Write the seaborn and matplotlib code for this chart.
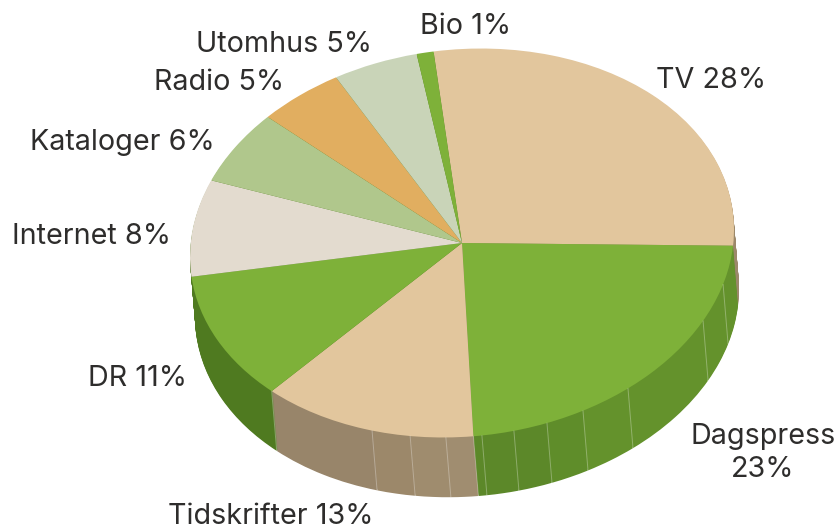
import matplotlib
matplotlib.use("Agg")
import matplotlib.pyplot as plt
from matplotlib.transforms import Affine2D
import numpy as np
import seaborn as sns

categories = ["TV", "Dagspress", "Tidskrifter", "DR", "Internet", "Kataloger", "Radio", "Utomhus", "Bio"]
shares = [28, 23, 13, 11, 8, 6, 5, 5, 1]
# the side wall is cut in facets (same total as shares)
side_shares = [28, 3.19, 3.14, 6.89, 3.11, 2.28, 2.0, 1.89, 0.5, 1.61, 2.11, 2.31, 6.97, 11, 25]
top_colors = ["#e2c69d", "#7eb139", "#e2c69d", "#7eb139", "#e3dbcf", "#b0c78c", "#e1ae60", "#c9d4b8", "#7eb139"]
side_colors = ["#9c886a", "#64922c", "#64922c", "#64922c", "#64922c", "#5f8d2a", "#5c8829", "#5c8829", "#5c8829",
               "#a08d70", "#9f8c6e", "#9c886a", "#98856a", "#4f7a20", "#4f7a20"]
label_pos = [(711, 81), (763, 453), (271, 517), (138, 378), (92, 236), (122, 143), (219, 82), (284, 44), (466, 26)]

W, H = 838, 531
CX, CY, RX, RY = 462, 243, 272, 194
DEPTH_X, DEPTH_Y = 5, 60
START = 96
TILT = 0.07  # the disc leans, left side lower than the right

sns.set_theme(style="white")
plt.rcParams["font.family"] = ["Inter", "DejaVu Sans"]

fig, ax = plt.subplots(figsize=(W / 100, H / 100), dpi=100)
fig.subplots_adjust(0, 0, 1, 1)
lean = Affine2D(np.array([[1, 0, 0], [TILT, 1, 0], [0, 0, 1]])) + ax.transData


def draw_pie(values, colors, center=(0, 0)):
    wedges = ax.pie(values, colors=sns.color_palette(colors), startangle=START, counterclock=False,
                    center=center, wedgeprops={"linewidth": 0})[0]
    for w in wedges:
        w.set_transform(lean)


# stack of darker pies makes the wall
for t in np.linspace(1, 0, 61)[:-1]:
    draw_pie(side_shares, side_colors, (t * DEPTH_X / RX, -t * DEPTH_Y / RY))

# facet lines on the wall
edges = START - np.cumsum(side_shares) * 3.6
for a in edges[1:13]:
    x0, y0 = np.cos(np.radians(a)), np.sin(np.radians(a))
    ax.plot([x0, x0 + DEPTH_X / RX], [y0, y0 - DEPTH_Y / RY], color="white", alpha=0.3, lw=0.7, transform=lean)

draw_pie(shares, top_colors)

ax.set_aspect("auto")
ax.set_xlim(-CX / RX, (W - CX) / RX)
ax.set_ylim((CY - H) / RY, CY / RY)
ax.axis("off")

for name, val, (px, py) in zip(categories, shares, label_pos):
    sep = "\n" if name == "Dagspress" else " "
    ax.text((px - CX) / RX, (CY - py) / RY, f"{name}{sep}{val}%", ha="center", va="center",
            fontsize=20.7, color="#2e2d2c", linespacing=1.25, clip_on=False)

fig.savefig("out.png", dpi=100)
